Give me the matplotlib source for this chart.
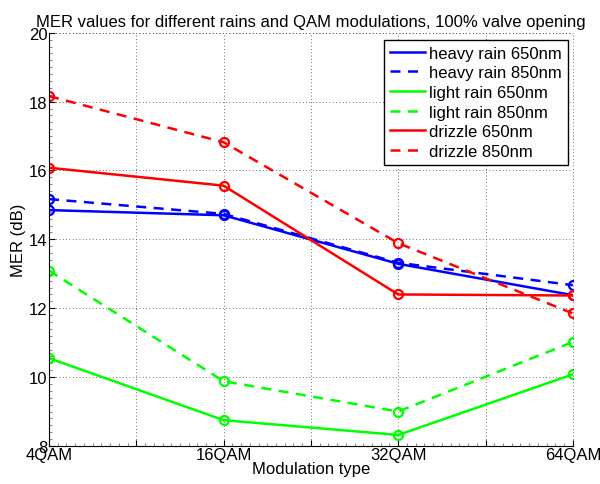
import matplotlib
matplotlib.use("Agg")
import matplotlib.pyplot as plt
from matplotlib.ticker import MultipleLocator

plt.rcParams['font.family'] = ['Liberation Sans', 'DejaVu Sans']

modulations = ['4QAM', '16QAM', '32QAM', '64QAM']
heavy_650 = [14.85, 14.70, 13.29, 12.38]
heavy_850 = [15.17, 14.74, 13.32, 12.67]
light_650 = [10.55, 8.75, 8.32, 10.08]
light_850 = [13.09, 9.88, 9.00, 11.02]
drizzle_650 = [16.08, 15.56, 12.40, 12.37]
drizzle_850 = [18.16, 16.82, 13.89, 11.85]

series = [
    ('heavy rain 650nm', heavy_650, '#0000ff', '-'),
    ('heavy rain 850nm', heavy_850, '#0000ff', '--'),
    ('light rain 650nm', light_650, '#00ff00', '-'),
    ('light rain 850nm', light_850, '#00ff00', '--'),
    ('drizzle 650nm', drizzle_650, '#ff0000', '-'),
    ('drizzle 850nm', drizzle_850, '#ff0000', '--'),
]

x = list(range(1, len(modulations) + 1))
fs = 12

fig = plt.figure(figsize=(6, 4.85), dpi=100)
ax = fig.add_axes([0.0817, 0.0784, 0.873, 0.852])

for label, vals, color, ls in series:
    ax.plot(x, vals, color=color, linestyle=ls, linewidth=1.8,
            marker='o', markersize=6.5, markerfacecolor='none',
            markeredgewidth=1.6, label=label,
            dashes=(4, 3) if ls == '--' else (None, None))

ax.set_xlim(1, 4)
ax.set_ylim(8, 20)
ticks = [1, 1.5, 2, 2.5, 3, 3.5, 4]
ax.set_xticks(ticks)
ax.set_xticklabels(['4QAM', '', '16QAM', '', '32QAM', '', '64QAM'])
ax.set_yticks(range(8, 21, 2))
ax.xaxis.set_minor_locator(MultipleLocator(0.05))
ax.yaxis.set_minor_locator(MultipleLocator(0.2))
ax.tick_params(which='major', direction='in', length=4, width=0.8, labelsize=fs, pad=1, colors='black')
ax.tick_params(which='minor', direction='in', length=2, width=0.5, color='#555555')
ax.tick_params(top=False, right=False, which='both')

ax.grid(True, which='major', linestyle=(0, (1, 3)), color='#444444', linewidth=0.6)
for s in ['top', 'right']:
    ax.spines[s].set_visible(False)
ax.plot([1, 4], [20, 20], linestyle=(0, (1, 3)), color='#444444', linewidth=0.6, clip_on=False)
ax.plot([4, 4], [8, 20], linestyle=(0, (1, 3)), color='#444444', linewidth=0.6, clip_on=False)

ax.set_xlabel('Modulation type', fontsize=fs, labelpad=-1)
ax.set_ylabel('MER (dB)', fontsize=fs, labelpad=2)
ax.set_title('MER values for different rains and QAM modulations, 100% valve opening',
             fontsize=fs, pad=5)

leg = ax.legend(loc='upper right', bbox_to_anchor=(0.99, 0.983), fontsize=fs,
                fancybox=False, edgecolor='black', framealpha=1,
                handlelength=2.1, handletextpad=0.25, labelspacing=0.28,
                borderpad=0.35, borderaxespad=0)
leg.get_frame().set_linewidth(1.0)
for h in leg.get_lines():
    h.set_marker('')

fig.savefig('out.png', dpi=100)
